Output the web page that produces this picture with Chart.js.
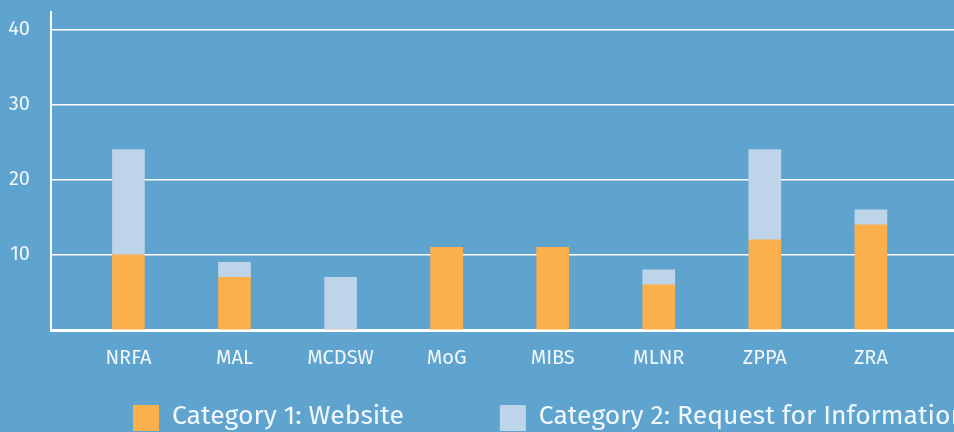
<!DOCTYPE html>
<html>
<head>
<meta charset="utf-8">
<script src="https://cdn.jsdelivr.net/npm/chart.js@4"></script>
<style>
  html, body { margin: 0; padding: 0; overflow: hidden; background: #5fa4cf; }
  #wrap { width: 1100px; height: 432px; }
</style>
</head>
<body>
<div id="wrap"><canvas id="mychart"></canvas></div>
<script>
const categories = ['NRFA', 'MAL', 'MCDSW', 'MoG', 'MIBS', 'MLNR', 'ZPPA', 'ZRA'];
const websiteValues = [10, 7, 0, 11, 11, 6, 12, 14];
const requestValues = [14, 2, 7, 0, 0, 2, 12, 2];
const yTicks = [10, 20, 30, 40];
const seriesNames = ['Category 1: Website', 'Category 2: Request for Information'];

const textColor = '#f2f7fb';
const fontFamily = '"Fira Sans", "Open Sans", sans-serif';
const toPoints = (vals) => vals.map((v, i) => ({ x: i, y: v }));

// legend drawn as one row at the bottom, items spaced wide like the original
const legendRow = {
  id: 'legendRow',
  afterDraw(chart, args, opts) {
    const ctx = chart.ctx;
    ctx.save();
    ctx.font = opts.font;
    ctx.textBaseline = 'middle';
    let x = opts.left;
    chart.data.datasets.forEach((ds) => {
      ctx.fillStyle = ds.backgroundColor;
      ctx.fillRect(x, opts.top, opts.box, opts.box);
      x += opts.box + opts.gap;
      ctx.fillStyle = textColor;
      ctx.fillText(ds.label, x, opts.top + opts.box / 2 - 1);
      x += ctx.measureText(ds.label).width + opts.spacing;
    });
    ctx.restore();
  }
};

let lineChart = document.getElementById('mychart').getContext('2d');

let myChart = new Chart(lineChart, {
  type: 'bar',
  data: {
    datasets: [{
      label: seriesNames[0],
      data: toPoints(websiteValues),
      backgroundColor: '#fbb04c',
      barThickness: 32
    }, {
      label: seriesNames[1],
      data: toPoints(requestValues),
      backgroundColor: '#bdd4e9',
      barThickness: 32
    }]
  },
  options: {
    responsive: true,
    maintainAspectRatio: false,
    animation: false,
    layout: { padding: { left: 0, top: 12, bottom: 52, right: 0 } },
    plugins: {
      legend: { display: false },
      tooltip: { enabled: false },
      legendRow: { left: 133, top: 405, box: 26, gap: 13, spacing: 96, font: '26.5px ' + fontFamily }
    },
    scales: {
      x: {
        type: 'linear',
        stacked: true,
        offset: false,
        min: -0.73,
        max: 9.16,
        afterBuildTicks: (s) => { s.ticks = categories.map((c, i) => ({ value: i })); },
        afterFit: (s) => { s.paddingLeft = 0; s.paddingRight = 0; s.height = 50; },
        grid: { display: false, drawTicks: false, offset: false },
        border: { color: '#ffffff', width: 3 },
        ticks: {
          color: textColor,
          font: { family: fontFamily, size: 20 },
          padding: 16,
          autoSkip: false,
          maxRotation: 0,
          callback: (v) => categories[v]
        }
      },
      y: {
        stacked: true,
        min: 0,
        max: 42.3,
        afterBuildTicks: (s) => { s.ticks = [0].concat(yTicks).map((v) => ({ value: v })); },
        afterFit: (s) => { s.width = 51; s.paddingTop = 0; s.paddingBottom = 0; },
        grid: { color: '#ffffff', lineWidth: 1.5, drawTicks: false },
        border: { color: '#ffffff', width: 2 },
        ticks: {
          color: textColor,
          font: { family: fontFamily, size: 20 },
          padding: 21,
          callback: (v) => (v === 0 ? '' : v)
        }
      }
    }
  },
  plugins: [legendRow]
});
</script>
</body>
</html>
